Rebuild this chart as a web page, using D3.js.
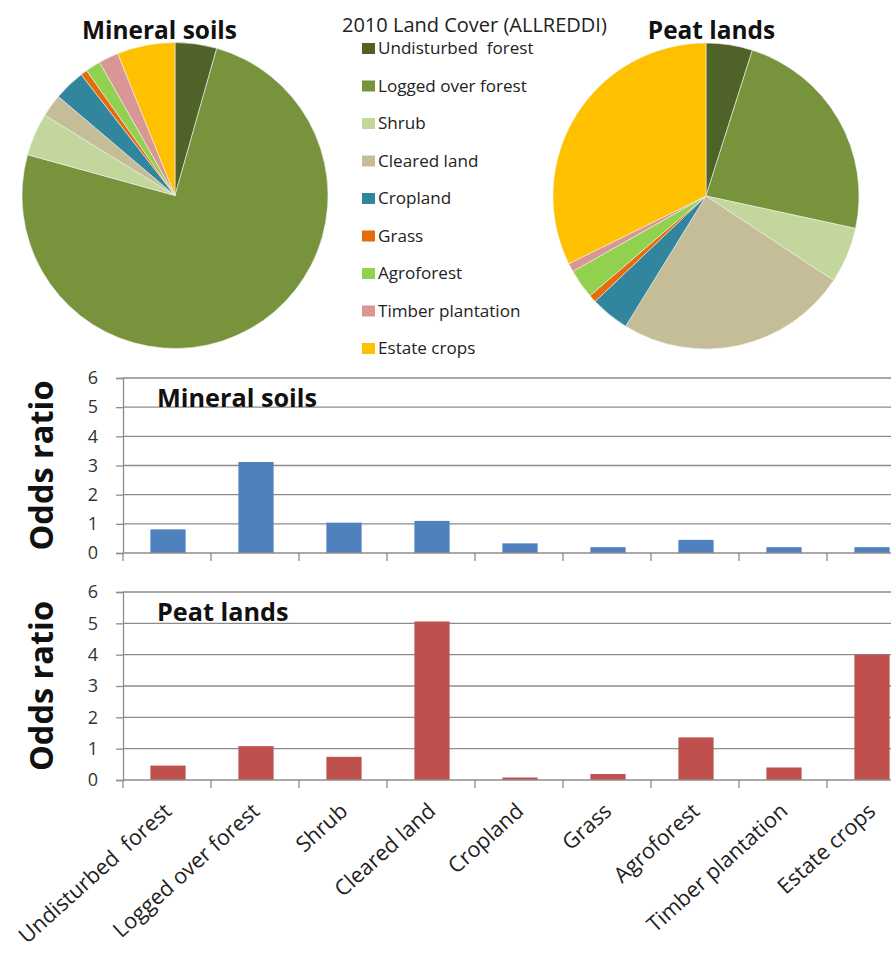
<!DOCTYPE html>
<html><head><meta charset="utf-8">
<script src="https://cdn.jsdelivr.net/npm/d3@7"></script>
<style>
body{margin:0;background:#fff;}
svg{display:block;font-family:"Open Sans", Lato, sans-serif;}
</style></head><body>
<svg id="c" width="891" height="958"></svg>
<script>
const categories = ["Undisturbed  forest","Logged over forest","Shrub","Cleared land","Cropland","Grass","Agroforest","Timber plantation","Estate crops"];
const mineralShare = [4.4,74.9,4.5,2.4,3.3,0.7,1.6,2.1,6.1];
const peatShare = [4.9,23.5,5.9,24.5,4.1,0.8,3.1,0.9,32.3];
const mineralOdds = [0.81,3.12,1.04,1.10,0.33,0.20,0.45,0.20,0.20];
const peatOdds = [0.46,1.08,0.74,5.06,0.08,0.19,1.36,0.40,4.00];
const yTicks = [0,1,2,3,4,5,6];
const colors = ["#4f6228","#77933c","#c3d69b","#c4bd97","#31859c","#e46c0a","#92d050","#d99694","#ffc000"];
const legendTitle = "2010 Land Cover (ALLREDDI)";

const svg = d3.select("#c");

// find the font size at which a sample string reaches a target width (style only)
function sizeFor(str, target, weight) {
  const t = svg.append("text").attr("font-size", 20).attr("font-weight", weight || "normal")
    .style("white-space","pre").text(str);
  const w = t.node().getComputedTextLength();
  t.remove();
  return 20 * target / w;
}
const fsPieTitle = sizeFor("Mineral soils", 155, "bold");
const fsLegTitle = sizeFor(legendTitle, 265);
const fsLeg = sizeFor("Logged over forest", 149);
const fsInner = sizeFor("Mineral soils", 160, "bold");
const fsOdds = sizeFor("Odds ratio", 170, "bold");
const fsX = sizeFor("Logged over forest", 188);

// Pies
function drawPie(values, cx, cy, r, title, tx) {
  const pie = d3.pie().sort(null).value(d => d)(values);
  const arc = d3.arc().innerRadius(0).outerRadius(r);
  const g = svg.append("g").attr("transform", `translate(${cx},${cy})`);
  g.selectAll("path").data(pie).join("path")
    .attr("d", arc).attr("fill", (d,i) => colors[i])
    .attr("stroke", "#f2f2ee").attr("stroke-width", 0.6);
  svg.append("text").attr("x", tx).attr("y", 39).attr("text-anchor","middle")
    .attr("font-weight","bold").attr("font-size", fsPieTitle).attr("fill","#111").text(title);
}
drawPie(mineralShare, 175, 195.5, 153, "Mineral soils", 159.5);
drawPie(peatShare, 706, 196, 153, "Peat lands", 711.5);

// Legend
svg.append("text").attr("x", 342).attr("y", 32).attr("font-size", fsLegTitle).attr("fill","#222").text(legendTitle);
const lg = svg.append("g");
const legY = d3.scaleLinear().domain([0,8]).range([48,348]);
categories.forEach((c,i) => {
  lg.append("rect").attr("x", 362).attr("y", legY(i)-5).attr("width", 13).attr("height", 11).attr("fill", colors[i]);
  lg.append("text").attr("x", 378).attr("y", legY(i)+6).attr("font-size", fsLeg).attr("fill","#222")
    .style("white-space","pre").text(c);
});

// Bar charts
const x = d3.scaleBand().domain(categories).range([123, 915]).paddingInner(0).paddingOuter(0);
const bw = x.bandwidth()*0.4;

function drawBars(values, y0, y6, color, label) {
  const y = d3.scaleLinear().domain([0,6]).range([y0, y6]);
  const g = svg.append("g");
  g.selectAll("line.grid").data(yTicks.slice(1)).join("line")
    .attr("x1", 123).attr("x2", 915).attr("y1", d => y(d)).attr("y2", d => y(d))
    .attr("stroke", "#8c8c8c").attr("stroke-width", 1.3);
  const ya = d3.axisLeft(y).tickValues(yTicks).tickSize(7).tickPadding(18).tickFormat(d3.format("d"));
  const yg = g.append("g").attr("transform","translate(123,0)").call(ya);
  yg.select(".domain").attr("stroke","#8c8c8c").attr("stroke-width",1.3);
  yg.selectAll(".tick line").attr("stroke","#8c8c8c").attr("stroke-width",1.3);
  yg.selectAll(".tick text").attr("font-size", 18).attr("fill","#333").attr("font-family","'Open Sans', sans-serif");
  g.selectAll("rect.bar").data(values).join("rect")
    .attr("x", (d,i) => x(categories[i]) + x.bandwidth()/2 - bw/2 + 1)
    .attr("width", bw)
    .attr("y", d => y(d)).attr("height", d => y(0) - y(d))
    .attr("fill", color);
  g.append("line").attr("x1",123).attr("x2",915).attr("y1",y0).attr("y2",y0)
    .attr("stroke","#8c8c8c").attr("stroke-width",1.3);
  const bounds = categories.map(c => x(c)).concat([x.range()[1]]);
  g.selectAll("line.xt").data(bounds).join("line")
    .attr("x1", d => d).attr("x2", d => d).attr("y1", y0).attr("y2", y0+8)
    .attr("stroke","#8c8c8c").attr("stroke-width",1.3);
  g.append("text").attr("x", 157).attr("y", y6 + 29).attr("font-size", fsInner).attr("font-weight","bold")
    .attr("fill","#111").text(label);
  g.append("text").attr("transform", `translate(53,${(y0+y6)/2}) rotate(-90)`)
    .attr("text-anchor","middle").attr("font-size", fsOdds).attr("font-weight","bold").attr("fill","#111")
    .text("Odds ratio");
  return y;
}
drawBars(mineralOdds, 553, 378, "#4f81bd", "Mineral soils");
drawBars(peatOdds, 780, 592, "#c0504d", "Peat lands");

// rotated x labels (bottom chart)
svg.append("g").selectAll("text").data(categories).join("text")
  .attr("transform", d => `translate(${x(d)+x.bandwidth()/2+6},${813}) rotate(-42)`)
  .attr("text-anchor","end").attr("font-size", fsX).attr("fill","#222")
  .style("white-space","pre").text(d => d);
</script>
</body></html>
